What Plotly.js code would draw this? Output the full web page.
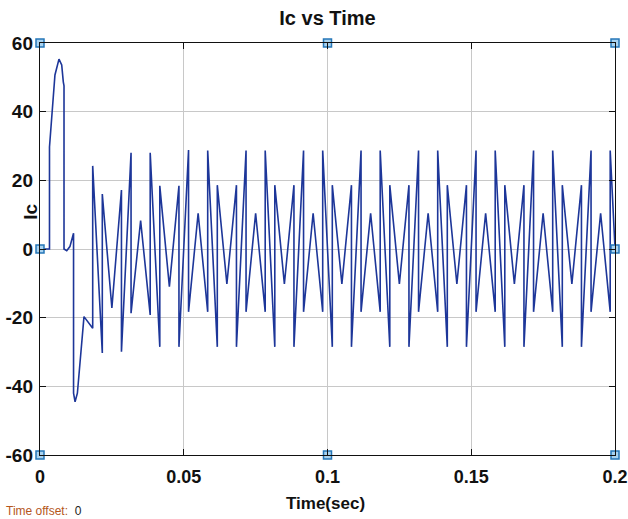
<!DOCTYPE html>
<html>
<head>
<meta charset="utf-8">
<script src="https://cdn.plot.ly/plotly-3.0.1.min.js"></script>
<style>
  html, body { margin: 0; padding: 0; background: #ffffff; }
  #chart { width: 628px; height: 519px; }
</style>
</head>
<body>
<div id="chart"></div>
<script>
// ---- data (time in s, Ic in A) ----
const time = [
  0.00000, 0.00330, 0.00330, 0.00410, 0.00520, 0.00660, 0.00755, 0.00810, 0.00835, 0.00835,
  0.00930, 0.01040, 0.01137, 0.01167, 0.01167, 0.01220, 0.01300, 0.01390, 0.01485, 0.01530,
  0.01833, 0.01833, 0.02167, 0.02167, 0.02500, 0.02833, 0.02833,
  0.03167, 0.03167, 0.03500, 0.03833, 0.03833, 0.04167, 0.04167, 0.04500, 0.04833, 0.04833,
  0.05167, 0.05167, 0.05500, 0.05833, 0.05833, 0.06167, 0.06167, 0.06500, 0.06833, 0.06833,
  0.07167, 0.07167, 0.07500, 0.07833, 0.07833, 0.08167, 0.08167, 0.08500, 0.08833, 0.08833,
  0.09167, 0.09167, 0.09500, 0.09833, 0.09833, 0.10167, 0.10167, 0.10500, 0.10833, 0.10833,
  0.11167, 0.11167, 0.11500, 0.11833, 0.11833, 0.12167, 0.12167, 0.12500, 0.12833, 0.12833,
  0.13167, 0.13167, 0.13500, 0.13833, 0.13833, 0.14167, 0.14167, 0.14500, 0.14833, 0.14833,
  0.15167, 0.15167, 0.15500, 0.15833, 0.15833, 0.16167, 0.16167, 0.16500, 0.16833, 0.16833,
  0.17167, 0.17167, 0.17500, 0.17833, 0.17833, 0.18167, 0.18167, 0.18500, 0.18833, 0.18833,
  0.19167, 0.19167, 0.19500, 0.19833, 0.19833, 0.20000
];
const ic = [
  0.0, 0.0, 29.7, 39.6, 50.7, 55.3, 53.6, 48.7, 47.5, 0.0,
  -0.5, 0.7, 3.6, 4.6, -42.0, -44.5, -42.0, -33.0, -23.6, -19.7,
  -23.1, 24.2, -30.3, 16.0, -17.2, 17.2, -29.9,
  28.0, -18.7, 8.3, -19.2, 28.0, -28.5, 18.4, -11.0, 18.4, -28.5,
  28.8, -18.3, 10.4, -18.3, 28.7, -28.5, 18.6, -10.2, 18.6, -28.5,
  28.7, -18.3, 10.4, -18.3, 28.7, -28.5, 18.6, -10.2, 18.6, -28.5,
  28.7, -18.3, 10.4, -18.3, 28.7, -28.5, 18.6, -10.2, 18.6, -28.5,
  28.7, -18.3, 10.4, -18.3, 28.7, -28.5, 18.6, -10.2, 18.6, -28.5,
  28.7, -18.3, 10.4, -18.3, 28.7, -28.5, 18.6, -10.2, 18.6, -28.5,
  28.7, -18.3, 10.4, -18.3, 28.7, -28.5, 18.6, -10.2, 18.6, -28.5,
  28.7, -18.3, 10.4, -18.3, 28.7, -28.5, 18.6, -10.2, 18.6, -28.5,
  28.7, -18.3, 10.4, -18.3, 28.7, 0.3
];

// scope limit handles
const handleT = [0, 0.1, 0.2, 0, 0.2, 0, 0.1, 0.2];
const handleV = [60, 60, 60, 0, 0, -60, -60, -60];

// tick labels
const xTickVals = [0, 0.05, 0.1, 0.15, 0.2];
const xTickText = ["0", "0.05", "0.1", "0.15", "0.2"];
const yTickVals = [-60, -40, -20, 0, 20, 40, 60];
const yTickText = ["-60", "-40", "-20", "0", "20", "40", "60"];

const FONT = '"Liberation Sans Narrow", "Liberation Sans", Arial, sans-serif';

const traces = [
  {
    x: time, y: ic, type: 'scatter', mode: 'lines',
    line: { color: '#1d3699', width: 1.6 },
    hoverinfo: 'skip', showlegend: false
  },
  {
    x: handleT, y: handleV, type: 'scatter', mode: 'markers',
    marker: { symbol: 'square', size: 8, color: '#a9d3f0', line: { color: '#2677b8', width: 1.5 } },
    cliponaxis: false, hoverinfo: 'skip', showlegend: false
  }
];

const layout = {
  width: 628, height: 519,
  margin: { l: 40, r: 13, t: 43, b: 64 },
  paper_bgcolor: '#ffffff', plot_bgcolor: '#ffffff',
  font: { family: FONT, color: '#111111' },
  title: {
    text: '<b>Ic vs Time</b>',
    font: { family: FONT, size: 20, color: '#111111' },
    xref: 'paper', x: 0.5, xanchor: 'center',
    yref: 'container', y: 0.965, yanchor: 'middle'
  },
  xaxis: {
    range: [0, 0.2], tickmode: 'array', tickvals: xTickVals, ticktext: xTickText,
    showgrid: true, gridcolor: '#c8c8c8', gridwidth: 1,
    zeroline: false, showline: true, linecolor: '#111111', linewidth: 1.2,
    mirror: 'ticks', ticks: 'inside', ticklen: 6, tickcolor: '#111111',
    tickfont: { family: FONT, size: 18, color: '#111111', weight: 'bold' },
    ticklabelstandoff: 5, ticklabeloverflow: 'allow'
  },
  yaxis: {
    range: [-60, 60], tickmode: 'array', tickvals: yTickVals, ticktext: yTickText,
    showgrid: true, gridcolor: '#c8c8c8', gridwidth: 1,
    zeroline: false, showline: true, linecolor: '#111111', linewidth: 1.2,
    mirror: 'ticks', ticks: 'inside', ticklen: 6, tickcolor: '#111111',
    tickfont: { family: FONT, size: 19, color: '#111111', weight: 'bold' },
    ticklabelstandoff: 2, ticklabeloverflow: 'allow'
  },
  annotations: [
    {
      text: '<b>Ic</b>', xref: 'paper', yref: 'paper', x: -0.016, y: 0.59,
      xanchor: 'center', yanchor: 'middle', textangle: -90, showarrow: false,
      font: { family: FONT, size: 19, color: '#111111' }
    },
    {
      text: '<b>Time(sec)</b>', xref: 'paper', yref: 'paper', x: 0.496, y: -0.117,
      xanchor: 'center', yanchor: 'middle', showarrow: false,
      font: { family: FONT, size: 17, color: '#111111' }
    },
    {
      text: '<span style="color:#b5561c">Time offset:</span>  0', xref: 'paper', yref: 'paper',
      x: -0.062, y: -0.135, xanchor: 'left', yanchor: 'middle', showarrow: false,
      font: { family: FONT, size: 12, color: '#222222' }
    }
  ]
};

Plotly.newPlot('chart', traces, layout, { staticPlot: true, displayModeBar: false });
</script>
</body>
</html>
